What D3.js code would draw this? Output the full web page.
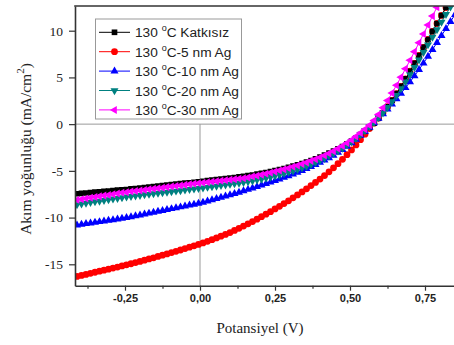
<!DOCTYPE html>
<html><head><meta charset="utf-8">
<script src="https://cdn.jsdelivr.net/npm/d3@7"></script>
<style>html,body{margin:0;padding:0;background:#fff;}svg{display:block;}</style>
</head><body>
<script>
const voltage = [-0.410,-0.395,-0.380,-0.365,-0.350,-0.335,-0.320,-0.305,-0.290,-0.275,
-0.260,-0.245,-0.230,-0.215,-0.200,-0.185,-0.170,-0.155,-0.140,-0.125,
-0.110,-0.095,-0.080,-0.065,-0.050,-0.035,-0.020,-0.005,0.010,0.025,
0.040,0.055,0.070,0.085,0.100,0.115,0.130,0.145,0.160,0.175,
0.190,0.205,0.220,0.235,0.250,0.265,0.280,0.295,0.310,0.325,
0.340,0.355,0.370,0.385,0.400,0.415,0.430,0.445,0.460,0.475,
0.490,0.505,0.520,0.535,0.550,0.565,0.580,0.595,0.610,0.625,
0.640,0.655,0.670,0.685,0.700,0.715,0.730,0.745,0.760,0.775,
0.790,0.805,0.820,0.835,0.850];

const katkisiz = [-7.45,-7.41,-7.37,-7.33,-7.28,-7.24,-7.20,-7.16,-7.11,-7.07,
-7.03,-6.99,-6.93,-6.89,-6.83,-6.78,-6.73,-6.68,-6.63,-6.58,
-6.53,-6.48,-6.42,-6.37,-6.32,-6.27,-6.22,-6.17,-6.11,-6.05,
-5.99,-5.94,-5.88,-5.82,-5.76,-5.71,-5.65,-5.58,-5.51,-5.44,
-5.35,-5.27,-5.18,-5.09,-4.98,-4.87,-4.75,-4.63,-4.49,-4.36,
-4.21,-4.06,-3.89,-3.71,-3.52,-3.32,-3.11,-2.89,-2.65,-2.39,
-2.11,-1.81,-1.48,-1.13,-0.76,-0.36,0.10,0.64,1.22,1.86,
2.54,3.27,4.04,4.84,5.66,6.50,7.35,8.21,9.06,9.92,
10.77,11.63,12.48,13.34,14.19];

const ag5 = [-16.30,-16.19,-16.08,-15.97,-15.85,-15.74,-15.63,-15.52,-15.40,-15.29,
-15.18,-15.06,-14.94,-14.82,-14.69,-14.56,-14.43,-14.30,-14.16,-14.03,
-13.89,-13.75,-13.61,-13.47,-13.32,-13.17,-13.02,-12.87,-12.71,-12.54,
-12.36,-12.18,-11.99,-11.80,-11.60,-11.38,-11.15,-10.91,-10.67,-10.43,
-10.17,-9.91,-9.64,-9.37,-9.08,-8.80,-8.50,-8.20,-7.89,-7.58,
-7.25,-6.92,-6.58,-6.24,-5.88,-5.50,-5.10,-4.68,-4.23,-3.76,
-3.27,-2.76,-2.22,-1.66,-1.08,-0.48,0.10,0.64,1.22,1.86,
2.54,3.27,4.04,4.84,5.66,6.50,7.35,8.21,9.06,9.92,
10.77,11.63,12.48,13.34,14.19];

const ag10 = [-10.80,-10.73,-10.66,-10.59,-10.52,-10.45,-10.38,-10.31,-10.24,-10.17,
-10.10,-10.02,-9.92,-9.83,-9.73,-9.64,-9.54,-9.44,-9.35,-9.25,
-9.15,-9.06,-8.96,-8.87,-8.77,-8.68,-8.58,-8.48,-8.37,-8.24,
-8.10,-7.98,-7.84,-7.71,-7.57,-7.44,-7.30,-7.15,-7.00,-6.85,
-6.69,-6.53,-6.37,-6.22,-6.05,-5.89,-5.71,-5.53,-5.35,-5.17,
-4.97,-4.77,-4.56,-4.34,-4.11,-3.87,-3.61,-3.34,-3.04,-2.72,
-2.38,-2.02,-1.63,-1.22,-0.79,-0.34,0.13,0.60,1.09,1.61,
2.14,2.70,3.28,3.89,4.51,5.16,5.83,6.53,7.24,7.98,
8.72,9.47,10.22,10.97,11.72];

const ag20 = [-8.60,-8.53,-8.45,-8.38,-8.30,-8.23,-8.15,-8.08,-8.00,-7.93,
-7.85,-7.78,-7.72,-7.67,-7.61,-7.55,-7.50,-7.44,-7.38,-7.33,
-7.27,-7.21,-7.15,-7.10,-7.04,-6.98,-6.93,-6.87,-6.81,-6.75,
-6.68,-6.62,-6.56,-6.49,-6.43,-6.36,-6.30,-6.23,-6.15,-6.06,
-5.97,-5.88,-5.77,-5.66,-5.54,-5.42,-5.28,-5.14,-4.99,-4.84,
-4.67,-4.49,-4.30,-4.10,-3.88,-3.65,-3.40,-3.14,-2.86,-2.56,
-2.23,-1.88,-1.51,-1.12,-0.70,-0.26,0.20,0.69,1.22,1.80,
2.42,3.09,3.80,4.54,5.30,6.09,6.88,7.69,8.50,9.31,
10.12,10.93,11.74,12.55,13.36];

const ag30 = [-8.10,-8.03,-7.95,-7.88,-7.80,-7.73,-7.65,-7.58,-7.50,-7.43,
-7.35,-7.28,-7.22,-7.16,-7.10,-7.04,-6.98,-6.92,-6.86,-6.80,
-6.74,-6.68,-6.62,-6.56,-6.50,-6.44,-6.38,-6.32,-6.27,-6.22,
-6.16,-6.11,-6.06,-6.01,-5.95,-5.90,-5.85,-5.78,-5.70,-5.61,
-5.52,-5.42,-5.31,-5.20,-5.08,-4.96,-4.84,-4.71,-4.57,-4.42,
-4.27,-4.11,-3.93,-3.75,-3.56,-3.35,-3.13,-2.89,-2.62,-2.33,
-2.02,-1.69,-1.33,-0.95,-0.55,-0.11,0.40,1.03,1.75,2.52,
3.32,4.17,5.03,5.92,6.83,7.76,8.70,9.65,10.60,11.56,
12.52,13.48,14.44,15.40,16.36];

const seriesPrefix = "130 ";
const seriesDegree = "o";
const seriesSuffix = ["C Katkısız", "C-5 nm Ag", "C-10 nm Ag", "C-20 nm Ag", "C-30 nm Ag"];
const seriesColors = ["#000000", "#ff0000", "#0000ff", "#008080", "#ff00ff"];
const seriesValues = [katkisiz, ag5, ag10, ag20, ag30];
const seriesShapes = ["square", "circle", "up", "down", "left"];
const drawOrder = [1, 0, 2, 3, 4];

const xMajorTicks = [-0.25, 0, 0.25, 0.5, 0.75];
const xMinorTicks = [-0.375, -0.125, 0.125, 0.375, 0.625];
const yTicks = [-15, -10, -5, 0, 5, 10];
const xTitle = "Potansiyel (V)";
const yTitle = "Akım yoğunluğu (mA/cm";

const W = 454, H = 345;
const L = 75, R = 454, T = 6, B = 285.7;
const x = d3.scaleLinear().domain([-0.41667, 0.84667]).range([L, R]);
const y = d3.scaleLinear().domain([-17.29, 12.643]).range([B, T]);

const svg = d3.select("body").append("svg").attr("width", W).attr("height", H);

svg.append("defs").append("clipPath").attr("id", "clip")
  .append("rect").attr("x", L).attr("y", T).attr("width", R - L).attr("height", B - T);

// zero reference lines
svg.append("line").attr("x1", L).attr("x2", R).attr("y1", y(0)).attr("y2", y(0))
  .attr("stroke", "#999").attr("stroke-width", 1);
svg.append("line").attr("x1", x(0)).attr("x2", x(0)).attr("y1", y(0)).attr("y2", B)
  .attr("stroke", "#999").attr("stroke-width", 1);

function symbolPath(shape) {
  if (shape === "square") return d3.symbol(d3.symbolSquare, 32)();
  if (shape === "circle") return d3.symbol(d3.symbolCircle, 36)();
  return d3.symbol(d3.symbolTriangle, 28)();
}
function rot(shape) {
  if (shape === "down") return 180;
  if (shape === "left") return -90;
  return 0;
}

const plot = svg.append("g").attr("clip-path", "url(#clip)");
drawOrder.forEach(i => {
  const vals = seriesValues[i];
  const pts = voltage.map((v, k) => [v, vals[k]]);
  const g = plot.append("g");
  g.append("path").datum(pts)
    .attr("d", d3.line().x(d => x(d[0])).y(d => y(d[1])))
    .attr("fill", "none").attr("stroke", seriesColors[i]).attr("stroke-width", 1);
  g.selectAll("path.m").data(pts).enter().append("path").attr("class", "m")
    .attr("d", symbolPath(seriesShapes[i]))
    .attr("transform", d => `translate(${x(d[0])},${y(d[1])}) rotate(${rot(seriesShapes[i])})`)
    .attr("fill", seriesColors[i]);
});

// axes
const fmtX = d => d3.format(".2f")(d).replace(".", ",").replace("−", "-");
const xAxis = svg.append("g").attr("transform", `translate(0,${B})`)
  .call(d3.axisBottom(x).tickValues(xMajorTicks).tickFormat(fmtX).tickSize(5).tickPadding(4).tickSizeOuter(0));
xAxis.select(".domain").attr("stroke", "#333").attr("stroke-width", 1.6);
xAxis.selectAll(".tick line").attr("stroke", "#333").attr("stroke-width", 1.2);
xAxis.selectAll("text").attr("font-family", "Liberation Sans, Arial, sans-serif")
  .attr("font-weight", "bold").attr("font-size", 11).attr("fill", "#222");
const xMinor = svg.append("g").attr("transform", `translate(0,${B})`)
  .call(d3.axisBottom(x).tickValues(xMinorTicks).tickFormat("").tickSize(3).tickSizeOuter(0));
xMinor.select(".domain").remove();
xMinor.selectAll(".tick line").attr("stroke", "#333").attr("stroke-width", 1.2);

const yAxis = svg.append("g").attr("transform", `translate(${L},0)`)
  .call(d3.axisLeft(y).tickValues(yTicks).tickFormat(d => String(d)).tickSize(6).tickPadding(6).tickSizeOuter(0));
yAxis.select(".domain").attr("stroke", "#333").attr("stroke-width", 1.6);
yAxis.selectAll(".tick line").attr("stroke", "#333").attr("stroke-width", 1.2);
yAxis.selectAll("text").attr("font-family", "Liberation Serif, Times New Roman, serif")
  .attr("font-size", 13.5).attr("fill", "#222");

// top border
svg.append("line").attr("x1", L - 0.8).attr("x2", R).attr("y1", T).attr("y2", T)
  .attr("stroke", "#333").attr("stroke-width", 1.6);

// titles
svg.append("text").attr("x", 260).attr("y", 333).attr("text-anchor", "middle")
  .attr("font-family", "Liberation Serif, Times New Roman, serif").attr("font-size", 15).attr("fill", "#222")
  .text(xTitle);
const yt = svg.append("text").attr("transform", "translate(31,149) rotate(-90)").attr("text-anchor", "middle")
  .attr("font-family", "Liberation Serif, Times New Roman, serif").attr("font-size", 15.5).attr("fill", "#222");
yt.append("tspan").text(yTitle);
yt.append("tspan").attr("dy", -7).attr("font-size", 11).text("2");
yt.append("tspan").attr("dy", 7).text(")");

// legend
const lg = svg.append("g");
lg.append("rect").attr("x", 95.5).attr("y", 19).attr("width", 146).attr("height", 100)
  .attr("fill", "#fff").attr("stroke", "#999").attr("stroke-width", 1);
seriesSuffix.forEach((suffix, i) => {
  const cy = 32.3 + i * 19.4;
  lg.append("line").attr("x1", 99).attr("x2", 130).attr("y1", cy).attr("y2", cy)
    .attr("stroke", seriesColors[i]).attr("stroke-width", 1);
  lg.append("path").attr("d", symbolPath(seriesShapes[i]))
    .attr("transform", `translate(114.5,${cy}) rotate(${rot(seriesShapes[i])})`)
    .attr("fill", seriesColors[i]);
  const t = lg.append("text").attr("x", 135).attr("y", cy + 5)
    .attr("font-family", "Liberation Sans, Arial, sans-serif").attr("font-size", 13.7).attr("fill", "#222");
  t.append("tspan").text(seriesPrefix);
  t.append("tspan").attr("dy", -6).attr("font-size", 9).text(seriesDegree);
  t.append("tspan").attr("dy", 6).text(suffix);
});
</script>
</body></html>
